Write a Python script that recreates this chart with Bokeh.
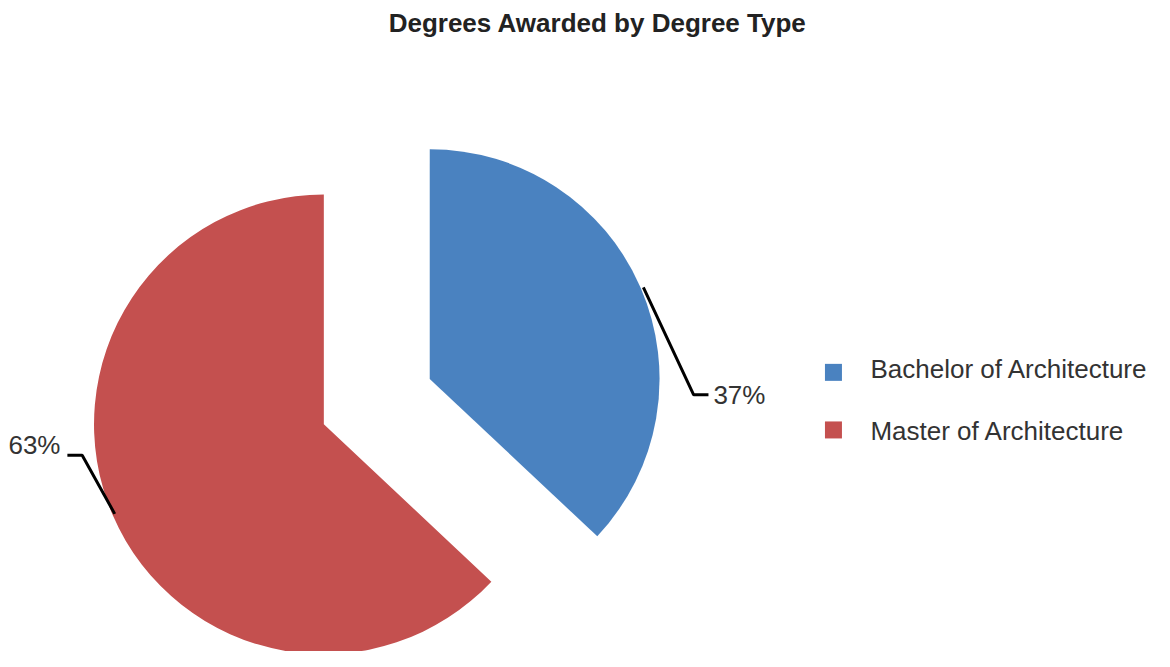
import math
from bokeh.plotting import figure
from bokeh.models import ColumnDataSource
from bokeh.core.properties import value
from bokeh.embed import file_html
from bokeh.resources import INLINE

# ---- data ----
categories = ["Bachelor of Architecture", "Master of Architecture"]
shares = [37, 63]
colors = ["#4A82C0", "#C4504F"]
title_text = "Degrees Awarded by Degree Type"

# ---- layout (reference-pixel coordinates, y up) ----
W, H = 1154, 651
RW, RH = 1170, 667         # coordinate space of the layout
CX, CY = 381.5, 256.0      # common pie centre
R = 233                    # radius
EXPLODE = 58.5             # slice offset
FONT = value("Liberation Sans")
FS = "26px"
TY = 10.0                  # text baseline correction

p = figure(width=W, height=H, x_range=(0, RW), y_range=(0, RH),
           x_axis_type=None, y_axis_type=None, toolbar_location=None,
           output_backend="svg", min_border=0)
p.outline_line_color = None
p.grid.visible = False
p.background_fill_color = "white"
p.border_fill_color = "white"

total = float(sum(shares))
starts, ends, mids, cxs, cys = [], [], [], [], []
cum = 0.0
for v in shares:
    s = math.pi / 2 - 2 * math.pi * cum / total
    e = s - 2 * math.pi * v / total
    m = (s + e) / 2
    starts.append(s); ends.append(e); mids.append(m)
    cxs.append(CX + EXPLODE * math.cos(m))
    cys.append(CY + EXPLODE * math.sin(m))
    cum += v

src = ColumnDataSource(dict(x=cxs, y=cys, start=starts, end=ends, color=colors))
p.wedge(x="x", y="y", radius=R, start_angle="start",
        end_angle="end", direction="clock", fill_color="color",
        line_color=None, source=src)

# ---- leader lines and percentage labels ----
lead_r = [3, -2]
elbow_dx = [51, -33]
elbow_dy = [-110, 60]
hook = [15, -15]
lab_gap = [5, -7]
lab_base = [-10, 1]
lxs, lys, tx, ty, tt, ta = [], [], [], [], [], []
for i, v in enumerate(shares):
    m = mids[i]
    sx = cxs[i] + (R + lead_r[i]) * math.cos(m)
    sy = cys[i] + (R + lead_r[i]) * math.sin(m)
    ex, ey = sx + elbow_dx[i], sy + elbow_dy[i]
    hx = ex + hook[i]
    lxs.append([sx, ex, hx]); lys.append([sy, ey, ey])
    tx.append(hx + lab_gap[i]); ty.append(ey + lab_base[i] + TY)
    tt.append(f"{round(100 * v / total)}%")
    ta.append("left" if hook[i] > 0 else "right")

p.multi_line(xs=lxs, ys=lys, line_color="black", line_width=3)
p.text(x=tx, y=ty, text=tt, text_align=ta, text_baseline="alphabetic",
       text_font=FONT, text_font_size=FS, text_color="#333333")

# ---- legend ----
leg_x = 844.5
leg_y = [286, 227]
p.rect(x=[leg_x] * 2, y=leg_y, width=17, height=17, width_units="screen",
       height_units="screen", fill_color=colors, line_color=None)
p.text(x=[882] * 2, y=[279.7 + TY, 216.3 + TY], text=categories,
       text_align="left", text_baseline="alphabetic", text_font=FONT,
       text_font_size=FS, text_color="#333333")

# ---- title ----
p.text(x=[605.5], y=[633.7 + TY], text=[title_text], text_align="center",
       text_baseline="alphabetic", text_font=FONT, text_font_size=FS,
       text_font_style="bold", text_color="#222222")

open("out.html", "w").write(file_html(p, INLINE))
